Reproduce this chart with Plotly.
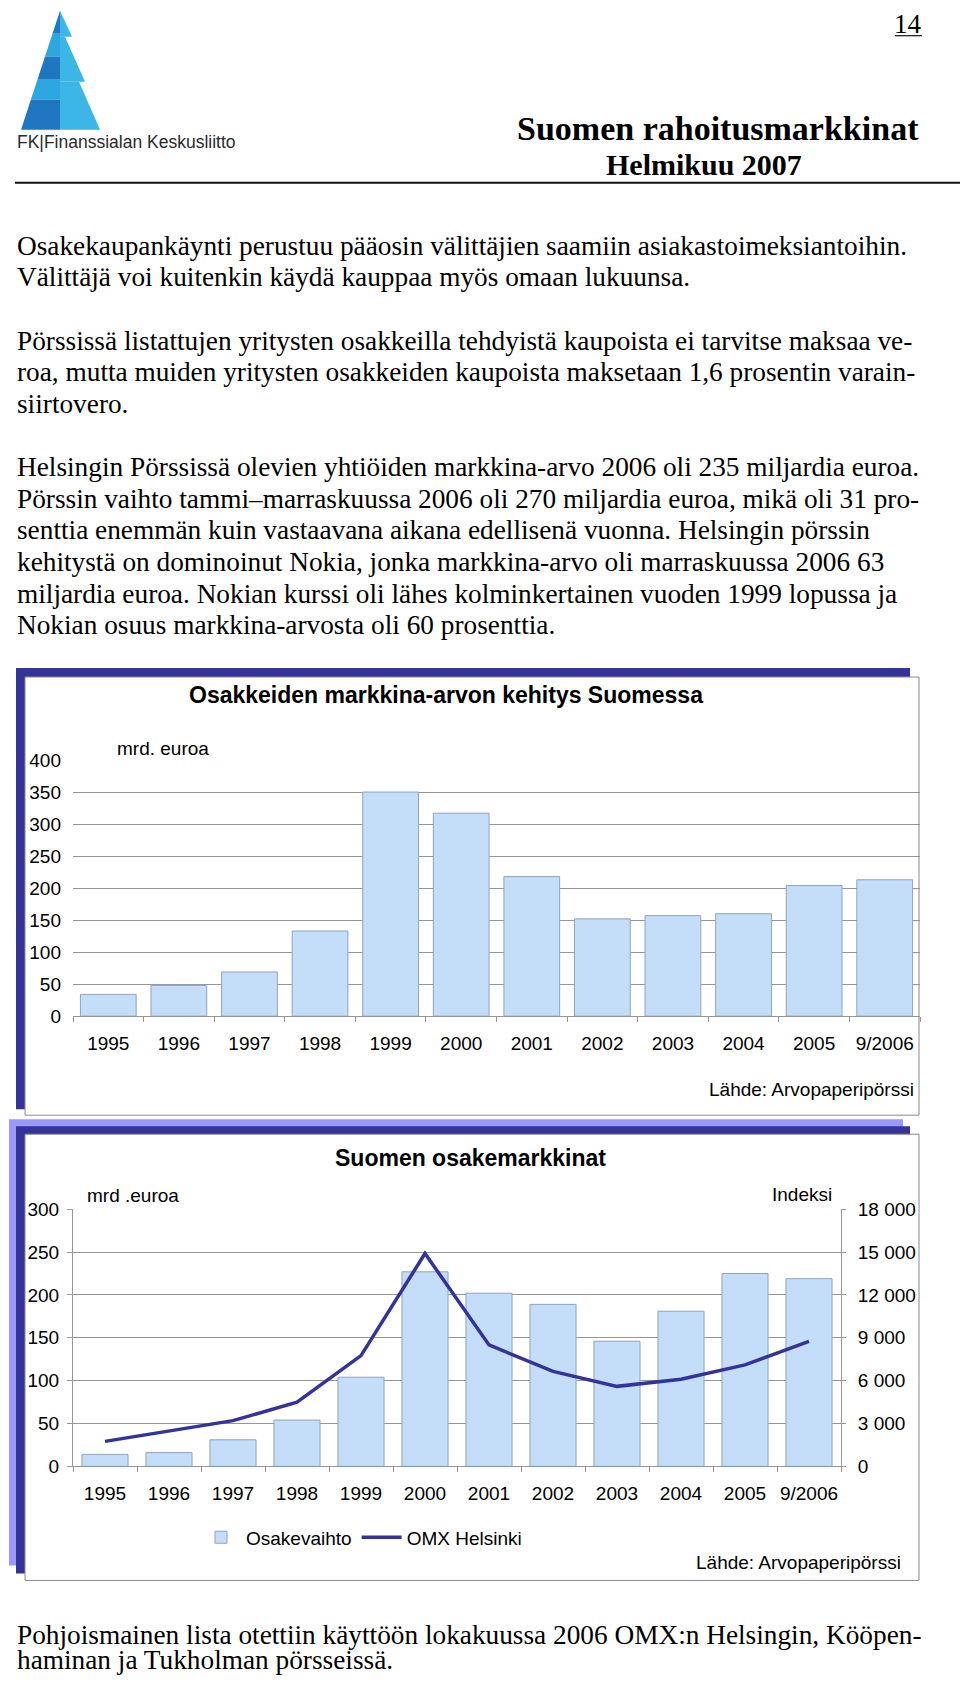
import plotly.graph_objects as go

W, H = 960, 1686

# measured vertical offset/scale of the photographed page
Y_OFF, Y_SCALE = 8.3, 0.9871


def px(x):
    return x / W


def py(y):
    return 1 - ((y - Y_OFF) / Y_SCALE) / H


# ---------------- data ----------------
years = ["1995", "1996", "1997", "1998", "1999", "2000", "2001", "2002",
         "2003", "2004", "2005", "9/2006"]
market_value = [34, 48, 69, 133, 350, 317, 218, 152, 157, 160, 204, 213]
turnover = [14, 16, 31, 54, 104, 227, 202, 189, 146, 181, 225, 219]
omx_index = [1750, 2500, 3200, 4500, 7750, 14900, 8500, 6650, 5600, 6100, 7100, 8750]

y1_ticks = [0, 50, 100, 150, 200, 250, 300, 350, 400]
y2_ticks = [0, 50, 100, 150, 200, 250, 300]
y3_ticks = [0, 3000, 6000, 9000, 12000, 15000, 18000]
y3_text = ["0", "3 000", "6 000", "9 000", "12 000", "15 000", "18 000"]

body_lines = [
    "Osakekaupankäynti perustuu pääosin välittäjien saamiin asiakastoimeksiantoihin.",
    "Välittäjä voi kuitenkin käydä kauppaa myös omaan lukuunsa.",
    "",
    "Pörssissä listattujen yritysten osakkeilla tehdyistä kaupoista ei tarvitse maksaa ve-",
    "roa, mutta muiden yritysten osakkeiden kaupoista maksetaan 1,6 prosentin varain-",
    "siirtovero.",
    "",
    "Helsingin Pörssissä olevien yhtiöiden markkina-arvo 2006 oli 235 miljardia euroa.",
    "Pörssin vaihto tammi–marraskuussa 2006 oli 270 miljardia euroa, mikä oli 31 pro-",
    "senttia enemmän kuin vastaavana aikana edellisenä vuonna. Helsingin pörssin",
    "kehitystä on dominoinut Nokia, jonka markkina-arvo oli marraskuussa 2006 63",
    "miljardia euroa. Nokian kurssi oli lähes kolminkertainen vuoden 1999 lopussa ja",
    "Nokian osuus markkina-arvosta oli 60 prosenttia.",
]
footer_lines = [
    "Pohjoismainen lista otettiin käyttöön lokakuussa 2006 OMX:n Helsingin, Kööpen-",
    "haminan ja Tukholman pörsseissä.",
]

# ---------------- styles ----------------
SANS = "Liberation Sans, Arial, sans-serif"
SERIF = "Liberation Serif, Times New Roman, serif"
BAR = "#C4DDF9"
BAR_EDGE = "#8FA3BF"
NAVY = "#333399"
LIGHT = "#9999FF"
GRID = "#969696"
TXT = "#000000"
BODY_SIZE = 27.3

fig = go.Figure()

fig.add_trace(go.Bar(
    x=years, y=market_value, xaxis="x", yaxis="y", width=0.79,
    marker=dict(color=BAR, line=dict(color=BAR_EDGE, width=1)),
    showlegend=False, hoverinfo="x+y"))

fig.add_trace(go.Bar(
    x=years, y=turnover, xaxis="x2", yaxis="y2", width=0.72, name="Osakevaihto",
    marker=dict(color=BAR, line=dict(color=BAR_EDGE, width=1))))

fig.add_trace(go.Scatter(
    x=years, y=omx_index, xaxis="x2", yaxis="y3", name="OMX Helsinki",
    mode="lines", line=dict(color=NAVY, width=3.5)))

axis_font = dict(family=SANS, size=19, color=TXT)

fig.update_layout(
    width=W, height=H,
    margin=dict(l=0, r=0, t=0, b=0),
    paper_bgcolor="white",
    plot_bgcolor="rgba(0,0,0,0)",
    font=dict(family=SANS, size=19, color=TXT),
    xaxis=dict(domain=[px(73), px(920)], anchor="y", type="category",
               range=[-0.5, 11.5], showline=True, linecolor=GRID, linewidth=1,
               ticks="outside", ticklen=5, tickcolor=GRID, tickson="boundaries",
               tickfont=axis_font, showgrid=False, ticklabelstandoff=10,
               tickangle=0, fixedrange=True),
    yaxis=dict(domain=[py(1014), py(758)], anchor="x", range=[0, 400],
               tickvals=y1_ticks, showgrid=True, gridcolor=GRID, gridwidth=1,
               zeroline=False, showline=False, ticks="", tickfont=axis_font,
               ticklabelstandoff=11, fixedrange=True),
    xaxis2=dict(domain=[px(73), px(841)], anchor="y2", type="category",
                range=[-0.5, 11.5], showline=True, linecolor=GRID, linewidth=1,
                ticks="outside", ticklen=5, tickcolor=GRID, tickson="boundaries",
                tickfont=axis_font, showgrid=False, ticklabelstandoff=10,
                tickangle=0, fixedrange=True),
    yaxis2=dict(domain=[py(1464), py(1207)], anchor="x2", range=[0, 300],
                tickvals=y2_ticks, showgrid=True, gridcolor=GRID, gridwidth=1,
                zeroline=False, showline=True, linecolor=GRID, ticks="outside",
                ticklen=5, tickcolor=GRID, tickfont=axis_font,
                ticklabelstandoff=4, fixedrange=True),
    yaxis3=dict(overlaying="y2", anchor="x2", side="right", range=[0, 18000],
                tickvals=y3_ticks, ticktext=y3_text, showgrid=False,
                zeroline=False, showline=True, linecolor=GRID, ticks="outside",
                ticklen=4, tickcolor=GRID, tickfont=axis_font,
                ticklabelstandoff=8, fixedrange=True),
    legend=dict(orientation="h", x=px(196), xanchor="left", y=py(1535),
                yanchor="middle", font=dict(family=SANS, size=19, color=TXT),
                bgcolor="rgba(0,0,0,0)", itemwidth=40, tracegroupgap=0),
    showlegend=True,
)

shapes = []


def rect(x0, y0, x1, y1, fill, line=None, layer="below"):
    shapes.append(dict(type="rect", xref="paper", yref="paper",
                       x0=px(x0), x1=px(x1), y0=py(y1), y1=py(y0),
                       fillcolor=fill,
                       line=dict(color=line or fill, width=1 if line else 0),
                       layer=layer))


def poly(points, fill):
    d = "M " + " L ".join(f"{px(x):.5f},{py(y):.5f}" for x, y in points) + " Z"
    shapes.append(dict(type="path", xref="paper", yref="paper", path=d,
                       fillcolor=fill, line=dict(width=0), layer="below"))


def hline(x0, x1, y, color, width):
    shapes.append(dict(type="line", xref="paper", yref="paper",
                       x0=px(x0), x1=px(x1), y0=py(y), y1=py(y),
                       line=dict(color=color, width=width), layer="above"))


# chart frames (drop-shadow style)
rect(16, 666, 910, 1107, NAVY)
rect(25, 675, 919, 1113, "white", line="#8a8a8a")
rect(9, 1117, 903, 1563, LIGHT)
rect(16, 1124, 910, 1571, NAVY)
rect(25, 1132, 919, 1578, "white", line="#8a8a8a")

# header rule and page-number underline
hline(15, 960, 181, "#111111", 2)
hline(895, 922, 34, "#111111", 1.2)

# logo (stepped tower)
DARK_B = "#1E77C0"
LIGHT_B = "#2DA7DF"
RIGHT_B = "#3CB6E7"


def left_x(y):
    return 60 - 0.3277 * (y - 9)


for (ya, yb, col) in [(9, 32, DARK_B), (32, 55, LIGHT_B), (55, 78, DARK_B),
                      (78, 98, LIGHT_B), (98, 128, DARK_B)]:
    poly([(left_x(ya), ya), (60, ya), (60, yb), (left_x(yb), yb)], col)
poly([(60, 9), (72, 35), (60, 35)], RIGHT_B)
poly([(60, 35), (65, 35), (85, 80), (60, 80)], RIGHT_B)
poly([(60, 80), (79, 80), (100, 128), (60, 128)], RIGHT_B)

fig.update_layout(shapes=shapes)

ann = []


def text(x, y, s, size, family, anchor="left", bold=False, color=TXT):
    ann.append(dict(xref="paper", yref="paper", x=px(x), y=py(y),
                    xanchor=anchor, yanchor="middle", showarrow=False,
                    text=f"<b>{s}</b>" if bold else s,
                    font=dict(size=size, family=family, color=color)))


# header
text(15, 140, "FK|Finanssialan Keskusliitto", 17.5, SANS, color="#2a2a2a")
text(908, 22, "14", 27, SERIF, anchor="center")
text(921, 127, "Suomen rahoitusmarkkinat", 34, SERIF, anchor="right", bold=True)
text(804, 163, "Helmikuu 2007", 30, SERIF, anchor="right", bold=True)

# body text
for i, line in enumerate(body_lines):
    if line:
        text(15, 244 + i * 31.6, line, BODY_SIZE, SERIF)
# footer (last line kept just inside the page so its descenders are not cut)
text(15, 1633, footer_lines[0], BODY_SIZE, SERIF)
text(15, 1658, footer_lines[1], BODY_SIZE, SERIF)

# chart 1 texts
text(446, 693, "Osakkeiden markkina-arvon kehitys Suomessa", 23, SANS,
     anchor="center", bold=True)
text(115, 746, "mrd. euroa", 19, SANS)
text(916, 1087, "Lähde: Arvopaperipörssi", 19, SANS, anchor="right")

# chart 2 texts
text(470, 1156, "Suomen osakemarkkinat", 23, SANS, anchor="center", bold=True)
text(85, 1193, "mrd .euroa", 19, SANS)
text(834, 1192, "Indeksi", 19, SANS, anchor="right")
text(903, 1560, "Lähde: Arvopaperipörssi", 19, SANS, anchor="right")

fig.update_layout(annotations=ann)

fig.write_html(
    "out.html",
    post_script=("document.documentElement.style.margin='0px';"
                 "document.documentElement.style.padding='0px';"
                 "document.documentElement.style.overflow='hidden';"
                 "document.body.style.margin='0px';"
                 "document.body.style.padding='0px';"
                 "document.body.style.overflow='hidden';"))
